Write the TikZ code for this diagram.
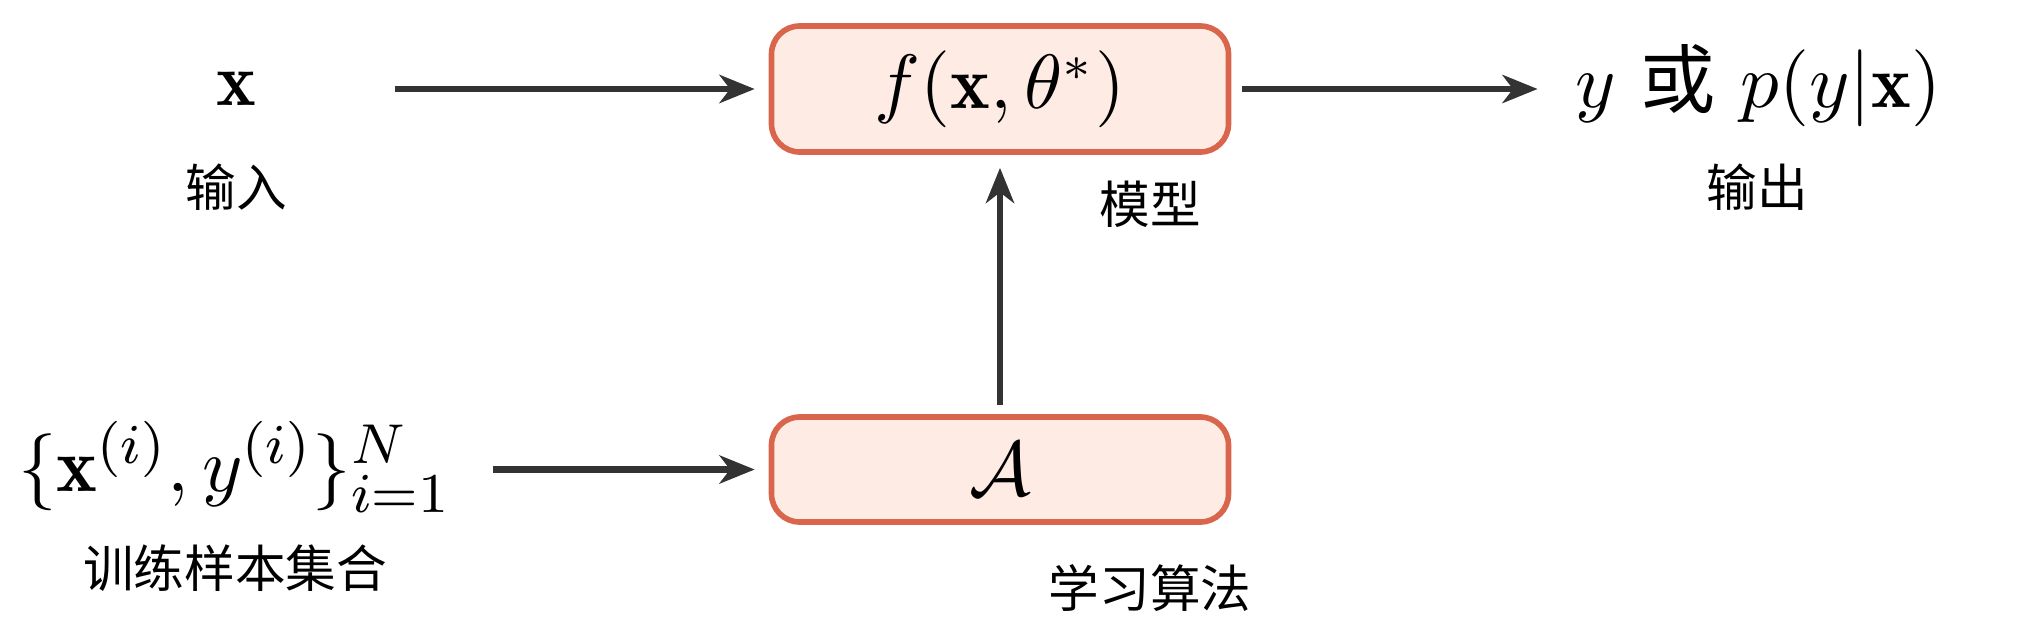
\documentclass[tikz,border=0pt]{standalone}
\usepackage{amsmath,amssymb}
\usepackage{fontspec}
\newfontfamily\cjk{Noto Sans CJK SC}
\usepackage{xcolor}
\usepackage{tikz}
\usetikzlibrary{arrows.meta,positioning}
\definecolor{boxline}{RGB}{217,101,77}
\definecolor{boxfill}{RGB}{253,235,228}
\definecolor{argray}{RGB}{51,51,51}

\begin{document}
\begin{tikzpicture}[
  font=\fontsize{10.7}{13}\selectfont,
  box/.style={draw=boxline, fill=boxfill, line width=0.8pt, rounded corners=4pt, minimum width=2.285cm, align=center, inner sep=0pt},
  ar/.style={-{Stealth[length=5pt, width=4pt, inset=1.5pt]}, line width=0.9pt, draw=argray},
  lab/.style={font=\cjk\fontsize{7.2}{9}\selectfont, inner sep=0pt},
  term/.style={inner sep=0pt},
]
\useasboundingbox (0,0) rectangle (10.13,3.17);
% top row: input -> model -> output
\node[term] (xin) at (1.18,2.725) {$\mathbf{x}$};
\node[lab] (xinlab) at (1.18,2.235) {输入};
\node[box, minimum height=0.63cm] (model) at (5.0,2.725) {$f(\mathbf{x},\theta^{*})$};
\node[lab] (modellab) at (5.75,2.15) {模型};
\node[term, anchor=base] (yout) at (8.79,2.635) {$y$ {\cjk 或} $p(y|\mathbf{x})$};
\node[lab] (youtlab) at (8.785,2.235) {输出};
\draw[ar, shorten <=0.69cm, shorten >=0.07cm] (xin) -- (model);
\draw[ar, shorten <=0.055cm, shorten >=0.18cm] (model) -- (model -| yout.west);
% bottom row: training set -> learning algorithm
\node[term, font=\fontsize{11}{13}\selectfont] (train) at (1.175,0.835) {$\{\mathbf{x}^{(i)},y^{(i)}\}_{i=1}^{N}$};
\node[lab] (trainlab) at (1.175,0.33) {训练样本集合};
\node[box, minimum height=0.525cm] (algo) at (5.0,0.8225) {$\mathcal{A}$};
\node[lab] (algolab) at (5.75,0.23) {学习算法};
\draw[ar, shorten <=0.2cm, shorten >=0.07cm] (train.east |- algo) -- (algo);
\draw[ar, shorten <=0.045cm, shorten >=0.065cm] (algo) -- (model);
\end{tikzpicture}
\end{document}
